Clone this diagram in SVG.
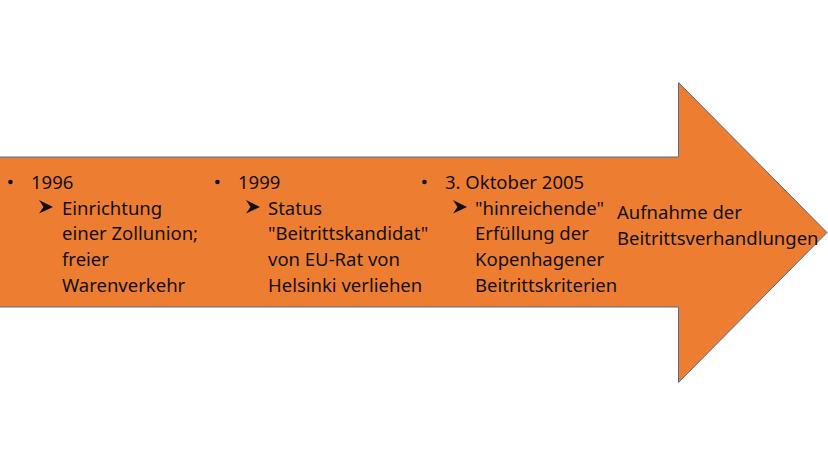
<svg xmlns="http://www.w3.org/2000/svg" width="828" height="466" viewBox="0 0 828 466">
<style>
.t{font-family:"Noto Sans","Open Sans",sans-serif;font-size:18.5px;fill:#111}
.bul{fill:#111}
</style>
<defs>
<symbol id="dot" overflow="visible"><circle cx="0" cy="0" r="2.3" class="bul"/></symbol>
<symbol id="chev" overflow="visible"><path d="M0,-7 L14,0 L0,6.5 L4.5,0 Z" class="bul"/></symbol>
</defs>
<rect width="828" height="466" fill="#ffffff"/>
<g id="arrow">
<path d="M-2,157 L678.5,157 L678.5,82.5 L827,232.5 L678.5,382.5 L678.5,307 L-2,307 Z" fill="#ED7D31" stroke="#4F6F8F" stroke-width="1"/>
</g>
<g id="node-1996">
<use href="#dot" x="10.5" y="182"/>
<text class="t" x="31" y="188.5">1996</text>
<use href="#chev" x="39" y="207"/>
<text class="t" x="62" y="214.5">Einrichtung</text>
<text class="t" x="62" y="240.3">einer Zollunion;</text>
<text class="t" x="62" y="266">freier</text>
<text class="t" x="62" y="291.8">Warenverkehr</text>
</g>
<g id="node-1999">
<use href="#dot" x="217.5" y="182"/>
<text class="t" x="238" y="188.5">1999</text>
<use href="#chev" x="246" y="207"/>
<text class="t" x="268" y="214.5">Status</text>
<text class="t" x="268" y="240.3">"Beitrittskandidat"</text>
<text class="t" x="268" y="266">von EU-Rat von</text>
<text class="t" x="268" y="291.8">Helsinki verliehen</text>
</g>
<g id="node-2005">
<use href="#dot" x="424.5" y="182"/>
<text class="t" x="445" y="188.5">3. Oktober 2005</text>
<use href="#chev" x="453" y="207"/>
<text class="t" x="475" y="214.5">"hinreichende"</text>
<text class="t" x="475" y="240.3">Erfüllung der</text>
<text class="t" x="475" y="266">Kopenhagener</text>
<text class="t" x="475" y="291.8">Beitrittskriterien</text>
</g>
<g id="node-aufnahme">
<text class="t" x="617" y="219">Aufnahme der</text>
<text class="t" x="617" y="244.5">Beitrittsverhandlungen</text>
</g>
<g id="connectors"></g>
</svg>
